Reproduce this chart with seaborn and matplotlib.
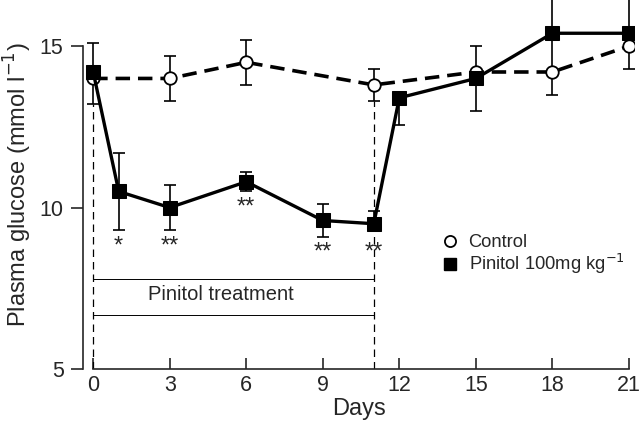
import matplotlib
matplotlib.use("Agg")
import matplotlib.pyplot as plt
from matplotlib.lines import Line2D
import seaborn as sns
import pandas as pd

# Datos (media, error inferior y superior)
days_ctrl = [0, 3, 6, 11, 15, 18, 21]
ctrl_mean = [14.0, 14.0, 14.5, 13.8, 14.2, 14.2, 15.0]
ctrl_lo = [0.8, 0.7, 0.7, 0.5, 0.0, 0.7, 0.7]
ctrl_hi = [0.0, 0.7, 0.7, 0.5, 0.8, 1.2, 0.0]

days_pin = [0, 1, 3, 6, 9, 11, 12, 15, 18, 21]
pin_mean = [14.2, 10.5, 10.0, 10.8, 9.6, 9.5, 13.4, 14.0, 15.4, 15.4]
pin_lo = [0.0, 1.2, 0.7, 0.3, 0.5, 0.2, 0.85, 1.0, 0.0, 0.0]
pin_hi = [0.9, 1.2, 0.7, 0.3, 0.5, 0.4, 0.0, 0.0, 1.2, 1.2]

# Marcas de significancia
star_days = [1, 3, 6, 9, 11]
star_text = ["*", "**", "**", "**", "**"]
star_y = [8.8, 8.8, 10.0, 8.6, 8.6]

x_ticks = [0, 3, 6, 9, 12, 15, 18, 21]
y_ticks = [5, 10, 15]

sns.set_style("ticks")
plt.rcParams['font.family'] = ['Liberation Sans', 'DejaVu Sans']

df_ctrl = pd.DataFrame({'day': days_ctrl, 'glucose': ctrl_mean})
df_pin = pd.DataFrame({'day': days_pin, 'glucose': pin_mean})

fig = plt.figure(figsize=(6.4, 4.25), dpi=100)
ax = fig.add_axes([83 / 640, 56 / 425, 551 / 640, 369 / 425])

# Lineas del periodo de tratamiento
ax.plot([0, 0], [5, 13.2], color='black', lw=0.9, ls=(0, (6, 4)), zorder=1)
ax.plot([11, 11], [5, 13.3], color='black', lw=0.9, ls=(0, (6, 4)), zorder=1)
ax.plot([0, 11], [7.79, 7.79], color='black', lw=0.7, zorder=1)
ax.plot([0, 11], [6.67, 6.67], color='black', lw=0.7, zorder=1)
ax.text(5.0, 7.3, "Pinitol treatment", fontsize=14.5, va='center', ha='center')

# Control
ax.errorbar(days_ctrl, ctrl_mean, yerr=[ctrl_lo, ctrl_hi], fmt='none',
            ecolor='black', elinewidth=1.2, capsize=4, capthick=1.2, zorder=2)
sns.lineplot(data=df_ctrl, x='day', y='glucose', ax=ax, color='black',
             lw=2.6, marker='o', markersize=9, markerfacecolor='white',
             markeredgecolor='black', markeredgewidth=1.3, zorder=3)
ax.lines[-1].set_dashes((4, 2.2))

# Pinitol
ax.errorbar(days_pin, pin_mean, yerr=[pin_lo, pin_hi], fmt='none',
            ecolor='black', elinewidth=1.2, capsize=4, capthick=1.2, zorder=4)
sns.lineplot(data=df_pin, x='day', y='glucose', ax=ax, color='black',
             lw=2.4, marker='s', markersize=10, markerfacecolor='black',
             markeredgecolor='black', zorder=5)

for d, t, y in zip(star_days, star_text, star_y):
    ax.text(d, y, t, fontsize=17, ha='center', va='center')

ax.set_xlim(-0.4, 21.2)
ax.set_ylim(5, 16.43)
ax.set_xticks(x_ticks)
ax.set_yticks(y_ticks)
ax.tick_params(axis='x', direction='in', length=8, width=1.2, labelsize=15.5, pad=4)
ax.tick_params(axis='y', direction='out', length=9, width=1.2, labelsize=15.5, pad=5)
ax.set_xlabel("Days", fontsize=17, labelpad=2)
ax.set_ylabel("Plasma glucose (mmol l$^{-1}$)", fontsize=17, labelpad=4)

sns.despine(ax=ax)
ax.spines['left'].set_bounds(5, 15)
ax.spines['bottom'].set_bounds(0, 21)
ax.spines['left'].set_linewidth(1.2)
ax.spines['bottom'].set_linewidth(1.2)

handles = [
    Line2D([], [], ls='none', marker='o', markersize=8, markerfacecolor='white',
           markeredgecolor='black', markeredgewidth=1.3),
    Line2D([], [], ls='none', marker='s', markersize=9, color='black'),
]
ax.legend(handles, ["Control", "Pinitol 100mg kg$^{-1}$"], loc='upper left',
          bbox_to_anchor=(0.62, 0.41), frameon=False, fontsize=13.2,
          handlelength=1.0, handletextpad=0.5, labelspacing=0.05)

fig.savefig("out.png", dpi=100)
